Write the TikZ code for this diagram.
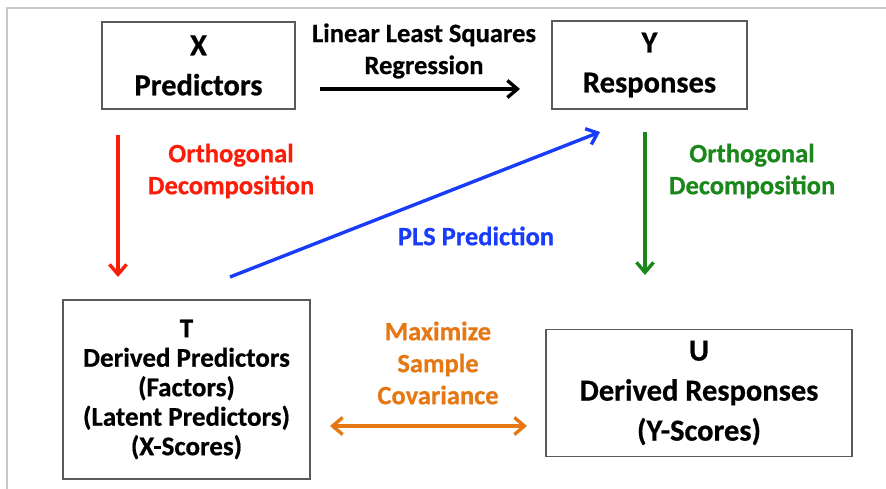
\documentclass[tikz,border=0pt]{standalone}
\usepackage{fontspec}
\setmainfont{Carlito}[BoldFeatures={FakeBold=0.6}]
\usetikzlibrary{arrows.meta}
\definecolor{myred}{RGB}{250,30,10}
\definecolor{mygreen}{RGB}{25,135,25}
\definecolor{myblue}{RGB}{25,60,250}
\definecolor{myorange}{RGB}{230,120,20}
\definecolor{boxgray}{RGB}{90,90,90}
\definecolor{framegray}{RGB}{200,200,200}
\begin{document}
\begin{tikzpicture}[x=1pt,y=-1pt,
  box/.style={draw=boxgray, line width=1.3pt, align=center, inner sep=0pt},
  bigtext/.style={font=\bfseries\fontsize{30.5}{40}\selectfont},
  smalltext/.style={font=\bfseries\fontsize{27}{29.5}\selectfont},
  lbl/.style={align=center, inner sep=0pt, font=\bfseries\fontsize{26.5}{32}\selectfont},
  arr/.style={line width=3.4pt, -{Straight Barb[length=10pt,width=17pt]}},
  darr/.style={line width=3.4pt, {Straight Barb[length=10pt,width=17pt]}-{Straight Barb[length=10pt,width=17pt]}}
]
\useasboundingbox (0,0) rectangle (886,489);
% screenshot frame
\draw[framegray, line width=2pt] (7,489) -- (7,8) -- (886,8);

% boxes
\node[box, bigtext, minimum width=193pt, minimum height=87pt] (X) at (198.5,65.5) {X\\Predictors};
\node[box, bigtext, minimum width=195pt, minimum height=88pt] (Y) at (649.5,65) {Y\\Responses};
\node[box, smalltext, minimum width=247pt, minimum height=179pt] (T) at (186.5,389.5)
  {T\\Derived Predictors\\(Factors)\\(Latent Predictors)\\(X-Scores)};
\node[box, bigtext, minimum width=306pt, minimum height=127pt] (U) at (699,393)
  {U\\Derived Responses\\(Y-Scores)};

% labels
\node[lbl, text=black] (lls) at (424,51) {Linear Least Squares\\Regression};
\node[lbl, text=myred] (od1) at (231,171) {Orthogonal\\Decomposition};
\node[lbl, text=mygreen] (od2) at (752,171) {Orthogonal\\Decomposition};
\node[lbl, text=myblue] (pls) at (476,236) {PLS Prediction};
\node[lbl, text=myorange] (msc) at (438,363) {Maximize\\Sample\\Covariance};

% arrow end points
\coordinate (a1) at (320,89);
\coordinate (a2) at (520,89);
\coordinate (r1) at (118,135);
\coordinate (r2) at (118,277);
\coordinate (g1) at (645,132);
\coordinate (g2) at (645,275);
\coordinate (b1) at (230,277);
\coordinate (b2) at (600,132);
\coordinate (o1) at (330,426);
\coordinate (o2) at (527,426);

\draw[arr, black] (a1) -- (a2);
\draw[arr, myred] (r1) -- (r2);
\draw[arr, mygreen] (g1) -- (g2);
\draw[arr, myblue] (b1) -- (b2);
\draw[darr, myorange] (o1) -- (o2);
\end{tikzpicture}
\end{document}
